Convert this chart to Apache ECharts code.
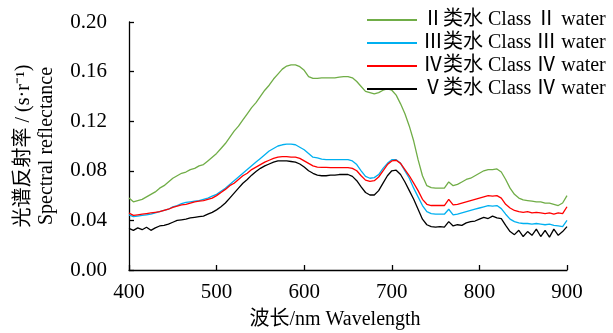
<!DOCTYPE html>
<html><head><meta charset="utf-8">
<script src="https://cdn.jsdelivr.net/npm/echarts@6/dist/echarts.min.js"></script>
<style>html,body{margin:0;padding:0;background:#fff}#c{width:613px;height:333px}</style>
</head><body><div id="c"></div>
<script>
var wavelengths = [400,405,410,415,420,425,430,435,440,445,450,455,460,465,470,475,480,485,490,495,
500,505,510,515,520,525,530,535,540,545,550,555,560,565,570,575,580,585,590,595,
600,605,610,615,620,625,630,635,640,645,650,655,660,665,670,675,680,685,690,695,
700,705,710,715,720,725,730,735,740,745,750,755,760,765,770,775,780,785,790,795,
800,805,810,815,820,825,830,835,840,845,850,855,860,865,870,875,880,885,890,895,900];

var classII = [0.058,0.055,0.056,0.057,0.059,0.061,0.063,0.066,0.068,0.071,0.074,0.076,0.078,0.079,0.081,0.082,0.084,0.085,0.088,0.091,
0.094,0.098,0.102,0.107,0.112,0.116,0.121,0.126,0.131,0.135,0.140,0.145,0.149,0.154,0.158,0.162,0.1645,0.1655,0.1655,0.164,
0.161,0.156,0.1545,0.1545,0.155,0.155,0.155,0.155,0.1555,0.156,0.156,0.155,0.152,0.148,0.144,0.143,0.142,0.143,0.145,0.146,
0.145,0.141,0.134,0.126,0.116,0.104,0.089,0.076,0.068,0.0665,0.066,0.066,0.066,0.071,0.068,0.069,0.071,0.073,0.074,0.076,
0.078,0.080,0.081,0.081,0.0815,0.079,0.073,0.066,0.061,0.058,0.0565,0.056,0.0555,0.055,0.055,0.054,0.054,0.053,0.052,0.054,0.060];

var classIII = [0.0445,0.043,0.0435,0.044,0.0445,0.045,0.046,0.047,0.048,0.049,0.051,0.052,0.0535,0.0545,0.055,0.0555,0.056,0.057,0.058,0.0595,
0.061,0.0635,0.066,0.069,0.072,0.075,0.078,0.081,0.084,0.087,0.090,0.093,0.096,0.098,0.100,0.101,0.1015,0.1015,0.101,0.099,
0.097,0.094,0.091,0.0905,0.0895,0.089,0.089,0.089,0.089,0.089,0.089,0.088,0.085,0.080,0.0755,0.074,0.0745,0.077,0.082,0.086,
0.089,0.089,0.086,0.080,0.074,0.066,0.059,0.052,0.047,0.0455,0.045,0.045,0.045,0.049,0.0445,0.045,0.046,0.047,0.048,0.049,
0.050,0.051,0.052,0.0515,0.052,0.0495,0.045,0.041,0.039,0.038,0.0375,0.0375,0.037,0.0375,0.037,0.0365,0.037,0.036,0.0355,0.035,0.040];

var classIV = [0.046,0.044,0.0445,0.045,0.0455,0.046,0.0465,0.047,0.048,0.049,0.0505,0.0515,0.0525,0.053,0.054,0.055,0.0555,0.056,0.057,0.058,
0.060,0.0625,0.065,0.068,0.070,0.073,0.076,0.078,0.081,0.083,0.085,0.087,0.0885,0.090,0.091,0.0915,0.0915,0.091,0.091,0.090,
0.088,0.086,0.084,0.083,0.0828,0.0827,0.0825,0.0825,0.0825,0.0825,0.0825,0.082,0.080,0.076,0.0725,0.0715,0.072,0.075,0.080,0.085,
0.088,0.0885,0.086,0.081,0.076,0.070,0.064,0.057,0.053,0.052,0.052,0.052,0.052,0.057,0.0525,0.053,0.054,0.055,0.056,0.057,
0.058,0.059,0.060,0.0595,0.060,0.058,0.053,0.050,0.048,0.047,0.0465,0.047,0.046,0.0465,0.046,0.0455,0.046,0.045,0.046,0.0455,0.051];

var classV = [0.0335,0.032,0.034,0.0325,0.0345,0.032,0.034,0.0355,0.036,0.037,0.0385,0.040,0.0405,0.041,0.042,0.0425,0.043,0.0435,0.045,0.0465,
0.0485,0.051,0.054,0.058,0.062,0.066,0.070,0.073,0.0765,0.0795,0.082,0.084,0.0855,0.087,0.088,0.088,0.088,0.0875,0.087,0.0855,
0.083,0.080,0.078,0.0765,0.076,0.076,0.0765,0.0765,0.077,0.077,0.077,0.0755,0.072,0.067,0.0625,0.0605,0.0605,0.064,0.070,0.076,
0.080,0.0805,0.077,0.071,0.064,0.057,0.049,0.041,0.0365,0.035,0.0345,0.035,0.0345,0.039,0.0355,0.0365,0.036,0.038,0.039,0.0395,
0.041,0.0425,0.0415,0.0435,0.042,0.0415,0.036,0.031,0.0285,0.032,0.027,0.031,0.028,0.033,0.027,0.032,0.0265,0.033,0.028,0.031,0.035];

var seriesNames = ['\u2161\u7c7b\u6c34 Class \u2161 water','\u2162\u7c7b\u6c34 Class \u2162 water','\u2163\u7c7b\u6c34 Class \u2163 water','\u2164\u7c7b\u6c34 Class \u2163 water'];
var seriesColors = ['#70ad47','#00b0f0','#ff0000','#000000'];
var seriesValues = [classII, classIII, classIV, classV];

var FONT = '"Liberation Serif","Noto Sans CJK SC",serif';

function pairs(vals){ return wavelengths.map(function(w,i){ return [w, vals[i]]; }); }

var chart = echarts.init(document.getElementById('c'), null, {renderer:'canvas'});
chart.setOption({
  animation:false,
  backgroundColor:'#fff',
  textStyle:{fontFamily:FONT, color:'#000'},
  grid:{left:129, right:46, top:22, bottom:63, containLabel:false, outerBoundsMode:'none'},
  legend:{
    top:5, left:362, orient:'vertical', itemGap:3,
    itemWidth:50, itemHeight:14, icon:'path://M0,6 L50,6 L50,8 L0,8 Z',
    textStyle:{fontFamily:FONT, fontSize:20, color:'#000', padding:[0,0,0,1]},
    data:seriesNames.map(function(n,i){return {name:n, itemStyle:{color:seriesColors[i]}};})
  },
  xAxis:{
    type:'value', min:400, max:900, interval:100,
    name:'\u6ce2\u957f/nm Wavelength', nameLocation:'middle', nameGap:40,
    nameTextStyle:{fontFamily:FONT, fontSize:20, color:'#000', padding:[0,26,0,0]},
    axisLine:{show:true, lineStyle:{color:'#000', width:1.3}},
    axisTick:{show:true, inside:true, length:5, lineStyle:{color:'#000', width:1.3}},
    axisLabel:{fontFamily:FONT, fontSize:21, color:'#000', margin:12},
    splitLine:{show:false}
  },
  yAxis:{
    type:'value', min:0, max:0.20, interval:0.04,
    name:'\u5149\u8c31\u53cd\u5c04\u7387 / (s\u00b7r\u207b\u00b9)\nSpectral reflectance',
    nameLocation:'middle', nameRotate:90, nameGap:71,
    nameTextStyle:{fontFamily:FONT, fontSize:20, color:'#000', lineHeight:23, align:'center'},
    axisLine:{show:true, lineStyle:{color:'#000', width:1.3}},
    axisTick:{show:true, inside:true, length:5, lineStyle:{color:'#000', width:1.3}},
    axisLabel:{fontFamily:FONT, fontSize:21, color:'#000', margin:22, formatter:function(v){return v.toFixed(2);}},
    splitLine:{show:false}
  },
  series:seriesValues.map(function(vals,i){
    return {name:seriesNames[i], type:'line', data:pairs(vals), showSymbol:false, symbol:'none',
      lineStyle:{color:seriesColors[i], width:1.3}, itemStyle:{color:seriesColors[i]}, z:2+i};
  })
});
</script></body></html>
